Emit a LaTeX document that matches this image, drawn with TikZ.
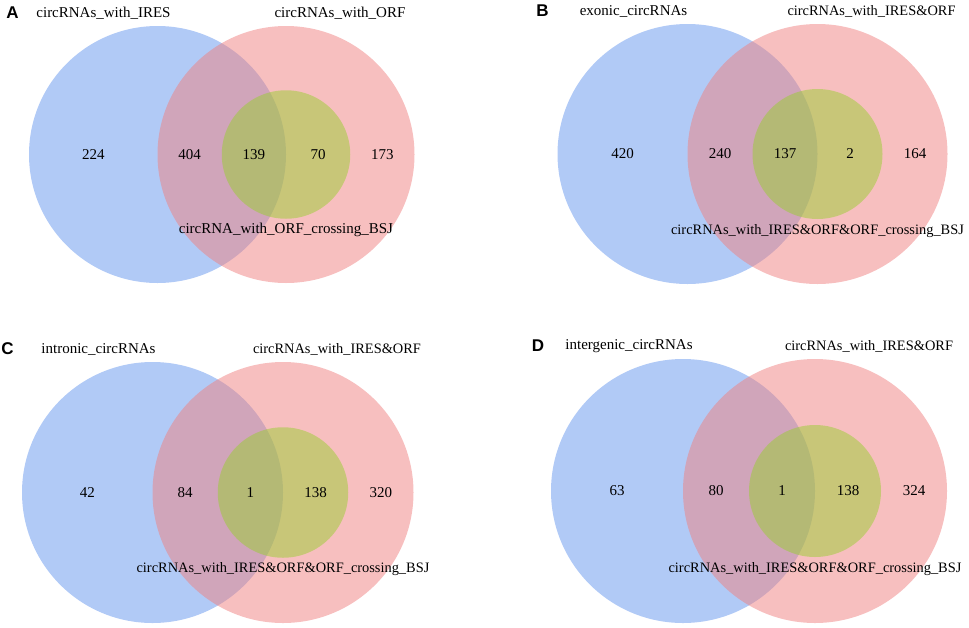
\documentclass[tikz,border=0pt]{standalone}
\usepackage{fontspec}
\setmainfont{Liberation Serif}
\newfontfamily\tagfont{Liberation Sans}

\definecolor{vennblue}{RGB}{100,149,237}
\definecolor{vennred}{RGB}{240,128,128}
\definecolor{vennyellow}{RGB}{154,205,50}

\tikzset{
	setname/.style={font=\fontsize{#1}{18}\selectfont, inner sep=0pt},
	count/.style={font=\fontsize{15}{18}\selectfont, inner sep=0pt},
	paneltag/.style={font=\tagfont\bfseries\fontsize{17}{20}\selectfont, inner sep=0pt}
}

\begin{document}
\begin{tikzpicture}[x=1pt,y=-1pt]
	\useasboundingbox (0,0) rectangle (969,627);
	% one venn diagram per panel: blue set, red set, yellow subset of red
	\foreach \p/\cx/\cy/\r/\fs/\lname/\rname/\bname/\na/\nb/\nc/\nd/\ne in {
		A/157.5/154.5/128.5/15/circRNAs\_with\_IRES/circRNAs\_with\_ORF/circRNA\_with\_ORF\_crossing\_BSJ/224/404/139/70/173,
		B/687.5/154/130/14.4/exonic\_circRNAs/circRNAs\_with\_IRES\&ORF/circRNAs\_with\_IRES\&ORF\&ORF\_crossing\_BSJ/420/240/137/2/164,
		C/152.5/492.5/130.5/14.4/intronic\_circRNAs/circRNAs\_with\_IRES\&ORF/circRNAs\_with\_IRES\&ORF\&ORF\_crossing\_BSJ/42/84/1/138/320,
		D/683/491/132/14.4/intergenic\_circRNAs/circRNAs\_with\_IRES\&ORF/circRNAs\_with\_IRES\&ORF\&ORF\_crossing\_BSJ/63/80/1/138/324}{
		\fill[vennblue,opacity=.5] (\cx,\cy) circle (\r);
		\fill[vennred,opacity=.5] (\cx+\r,\cy) circle (\r);
		\fill[vennyellow,opacity=.5] (\cx+\r,\cy) circle (\r/2);
		\node[paneltag] (tag-\p) at (\cx-145,\cy-\r-13) {\p};
		\node[setname=15] (left-\p) at (\cx-54,\cy-\r-13) {\lname};
		\node[setname=\fs] (right-\p) at (\cx+\r+54,\cy-\r-13) {\rname};
		\node[setname=\fs] (bottom-\p) at (\cx+\r,\cy+0.59*\r) {\bname};
		\node[count] (na-\p) at (\cx-\r/2,\cy) {\na};
		\node[count] (nb-\p) at (\cx+\r/4,\cy) {\nb};
		\node[count] (nc-\p) at (\cx+3*\r/4,\cy) {\nc};
		\node[count] (nd-\p) at (\cx+5*\r/4,\cy) {\nd};
		\node[count] (ne-\p) at (\cx+7*\r/4,\cy) {\ne};
	}
\end{tikzpicture}
\end{document}
